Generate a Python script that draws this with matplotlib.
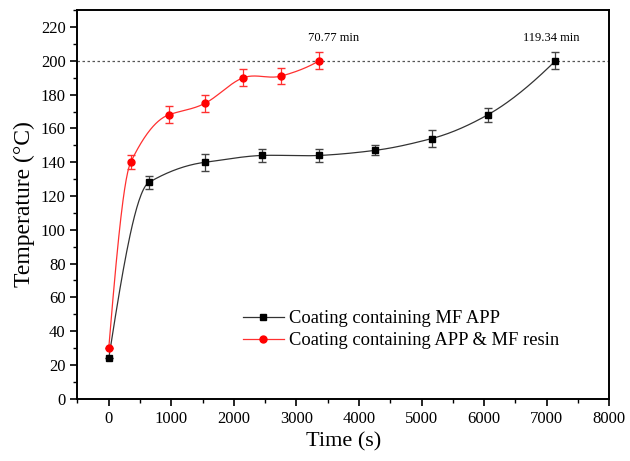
import numpy as np
import matplotlib
matplotlib.use('Agg')
import matplotlib.pyplot as plt
from matplotlib.ticker import MultipleLocator

plt.rcParams['font.family'] = ['Liberation Serif', 'DejaVu Serif']

# data
time_mf = [0, 640, 1546, 2454, 3363, 4255, 5163, 6056, 7140]
temp_mf = [24, 128, 140, 144, 144, 147, 154, 168, 200]
err_mf = [0, 4, 5, 4, 4, 3, 5, 4, 5]

time_res = [0, 351, 956, 1546, 2151, 2757, 3363]
temp_res = [30, 140, 168, 175, 190, 191, 200]
err_res = [0, 4, 5, 5, 5, 5, 5]

label_mf = 'Coating containing MF APP'
label_res = 'Coating containing APP & MF resin'
times_txt = ['70.77 min', '119.34 min']


def akima(x, y, n=400):
    # akima spline through the points, less overshoot than a natural spline
    x = np.asarray(x, float)
    y = np.asarray(y, float)
    m = np.diff(y) / np.diff(x)
    m = np.concatenate([[3 * m[0] - 2 * m[1], 2 * m[0] - m[1]], m,
                        [2 * m[-1] - m[-2], 3 * m[-1] - 2 * m[-2]]])
    dm = np.abs(np.diff(m))
    w1 = dm[2:]
    w2 = dm[:-2]
    t = np.where(w1 + w2 > 1e-12,
                 (w1 * m[1:-2] + w2 * m[2:-1]) / np.maximum(w1 + w2, 1e-12),
                 0.5 * (m[1:-2] + m[2:-1]))
    xs = np.linspace(x[0], x[-1], n)
    i = np.clip(np.searchsorted(x, xs) - 1, 0, len(x) - 2)
    h = x[i + 1] - x[i]
    s = (xs - x[i]) / h
    h00 = 2 * s**3 - 3 * s**2 + 1
    h10 = s**3 - 2 * s**2 + s
    h01 = -2 * s**3 + 3 * s**2
    h11 = s**3 - s**2
    ys = h00 * y[i] + h10 * h * t[i] + h01 * y[i + 1] + h11 * h * t[i + 1]
    return xs, ys


fig, ax = plt.subplots(figsize=(6.3, 4.61), dpi=100)
fig.subplots_adjust(left=0.123, right=0.967, top=0.978, bottom=0.135)

xs, ys = akima(time_mf, temp_mf)
ax.plot(xs, ys, color='#333333', lw=0.9)
xs, ys = akima(time_res, temp_res)
ax.plot(xs, ys, color='#ff3030', lw=0.9)

ax.errorbar(time_mf, temp_mf, yerr=err_mf, fmt='s', color='black', ms=5,
            ecolor='#444444', elinewidth=0.9, capsize=3)
ax.errorbar(time_res, temp_res, yerr=err_res, fmt='o', color='red', ms=5,
            ecolor='#ff3030', elinewidth=0.9, capsize=3)

ax.axhline(200, color='#555555', ls=(0, (2, 2)), lw=0.9)
ax.text(3600, 210, times_txt[0], ha='center', va='bottom', fontsize=9)
ax.text(7080, 210, times_txt[1], ha='center', va='bottom', fontsize=9)

# legend handles
h1, = ax.plot([], [], color='#333333', lw=0.9, marker='s', mfc='black', mec='black', ms=5)
h2, = ax.plot([], [], color='#ff3030', lw=0.9, marker='o', mfc='red', mec='red', ms=5)
ax.legend([h1, h2], [label_mf, label_res], loc='lower left',
          bbox_to_anchor=(0.28, 0.085), frameon=False, fontsize=13.3,
          handlelength=2.2, handletextpad=0.3, labelspacing=0.25)

ax.set_xlim(-500, 8000)
ax.set_ylim(0, 230)
ax.xaxis.set_major_locator(MultipleLocator(1000))
ax.xaxis.set_minor_locator(MultipleLocator(500))
ax.yaxis.set_major_locator(MultipleLocator(20))
ax.yaxis.set_minor_locator(MultipleLocator(10))
ax.tick_params(which='major', direction='out', length=5, width=1.2, labelsize=12)
ax.tick_params(which='minor', direction='out', length=3, width=1.0)
for s in ax.spines.values():
    s.set_linewidth(1.4)

ax.set_xlabel('Time (s)', fontsize=16)
ax.set_ylabel('Temperature (\u00b0C)', fontsize=17)

fig.savefig('out.png', dpi=100)
